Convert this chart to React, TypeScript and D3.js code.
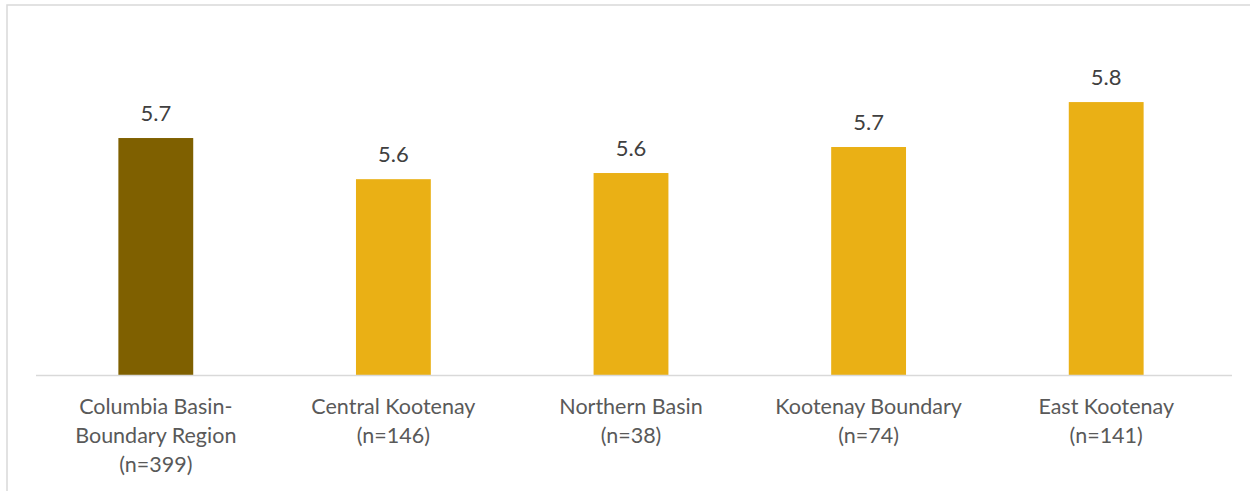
import React from "react";
import * as d3 from "d3";

const categories: string[][] = [
  ["Columbia Basin-", "Boundary Region", "(n=399)"],
  ["Central Kootenay", "(n=146)"],
  ["Northern Basin", "(n=38)"],
  ["Kootenay Boundary", "(n=74)"],
  ["East Kootenay", "(n=141)"],
];
const values: number[] = [5.701, 5.614, 5.627, 5.682, 5.777];
const barColors: string[] = ["#7f6000", "#eab015", "#eab015", "#eab015", "#eab015"];

const W = 1250;
const H = 491;
const baseline = 375;
const plotTop = 20;

export default function App() {
  const x = d3
    .scaleBand<number>()
    .domain(values.map((_, i) => i))
    .range([37, 1225])
    .paddingInner(0.685)
    .paddingOuter(0.3425);
  const y = d3.scaleLinear().domain([5.2, 5.2 + (baseline - plotTop) / 473]).range([baseline, plotTop]);
  const fmt = d3.format(".1f");
  const font = "Lato, 'Open Sans', sans-serif";

  return (
    <svg width={W} height={H} style={{ position: "absolute", left: 0, top: 0, background: "#fff" }}>
      <rect x={7} y={5} width={W + 20} height={H + 20} fill="#fff" stroke="#d9d9d9" strokeWidth={1.5} />
      {values.map((v, i) => (
        <rect key={"b" + i} x={x(i)} y={y(v)} width={x.bandwidth()} height={baseline - y(v)} fill={barColors[i]} />
      ))}
      <line x1={36} x2={1232} y1={baseline + 0.5} y2={baseline + 0.5} stroke="#d9d9d9" strokeWidth={1.5} />
      {values.map((v, i) => (
        <text
          key={"v" + i}
          x={(x(i) as number) + x.bandwidth() / 2}
          y={y(v) - 17}
          textAnchor="middle"
          fontFamily={font}
          fontSize={22}
          fill="#404040"
        >
          {fmt(v)}
        </text>
      ))}
      {categories.map((lines, i) => (
        <text
          key={"c" + i}
          x={(x(i) as number) + x.bandwidth() / 2}
          textAnchor="middle"
          fontFamily={font}
          fontSize={21.5}
          fill="#595959"
        >
          {lines.map((l, j) => (
            <tspan key={j} x={(x(i) as number) + x.bandwidth() / 2} y={414 + j * 29}>
              {l}
            </tspan>
          ))}
        </text>
      ))}
    </svg>
  );
}
